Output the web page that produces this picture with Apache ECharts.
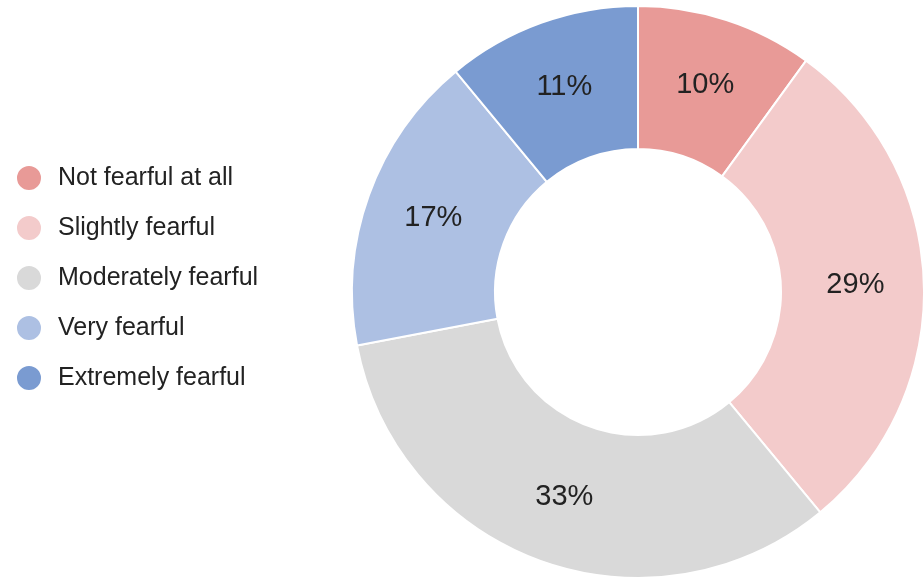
<!DOCTYPE html>
<html>
<head>
<meta charset="utf-8">
<script src="https://cdn.jsdelivr.net/npm/echarts@6/dist/echarts.min.js"></script>
<style>
  html, body { margin: 0; padding: 0; background: #fff; }
  #chart { width: 924px; height: 580px; }
</style>
</head>
<body>
<div id="chart"></div>
<script>
// Fear levels and their shares (percent)
const categories = ['Not fearful at all', 'Slightly fearful', 'Moderately fearful', 'Very fearful', 'Extremely fearful'];
const shares = [10, 29, 33, 17, 11];
const colors = ['#e89a97', '#f3cbcb', '#d9d9d9', '#adc0e3', '#7a9bd1'];

const chart = echarts.init(document.getElementById('chart'));
chart.setOption({
  animation: false,
  textStyle: { fontFamily: 'Liberation Sans, Arial, sans-serif' },
  legend: {
    orient: 'vertical',
    left: 15,
    top: 164,
    padding: 0,
    icon: 'circle',
    itemWidth: 26,
    itemHeight: 26,
    itemGap: 22,
    textStyle: { fontSize: 25, lineHeight: 26, color: '#222', padding: [0, 0, 0, 11] },
    data: categories
  },
  series: [{
    type: 'pie',
    center: [638, 292],
    radius: [143, 286],
    startAngle: 90,
    clockwise: true,
    itemStyle: { borderColor: '#fff', borderWidth: 2 },
    label: {
      show: true,
      position: 'inside',
      formatter: '{c}%',
      fontSize: 29,
      color: '#222'
    },
    labelLine: { show: false },
    data: categories.map((name, i) => ({
      name,
      value: shares[i],
      itemStyle: { color: colors[i] }
    }))
  }]
});
</script>
</body>
</html>
